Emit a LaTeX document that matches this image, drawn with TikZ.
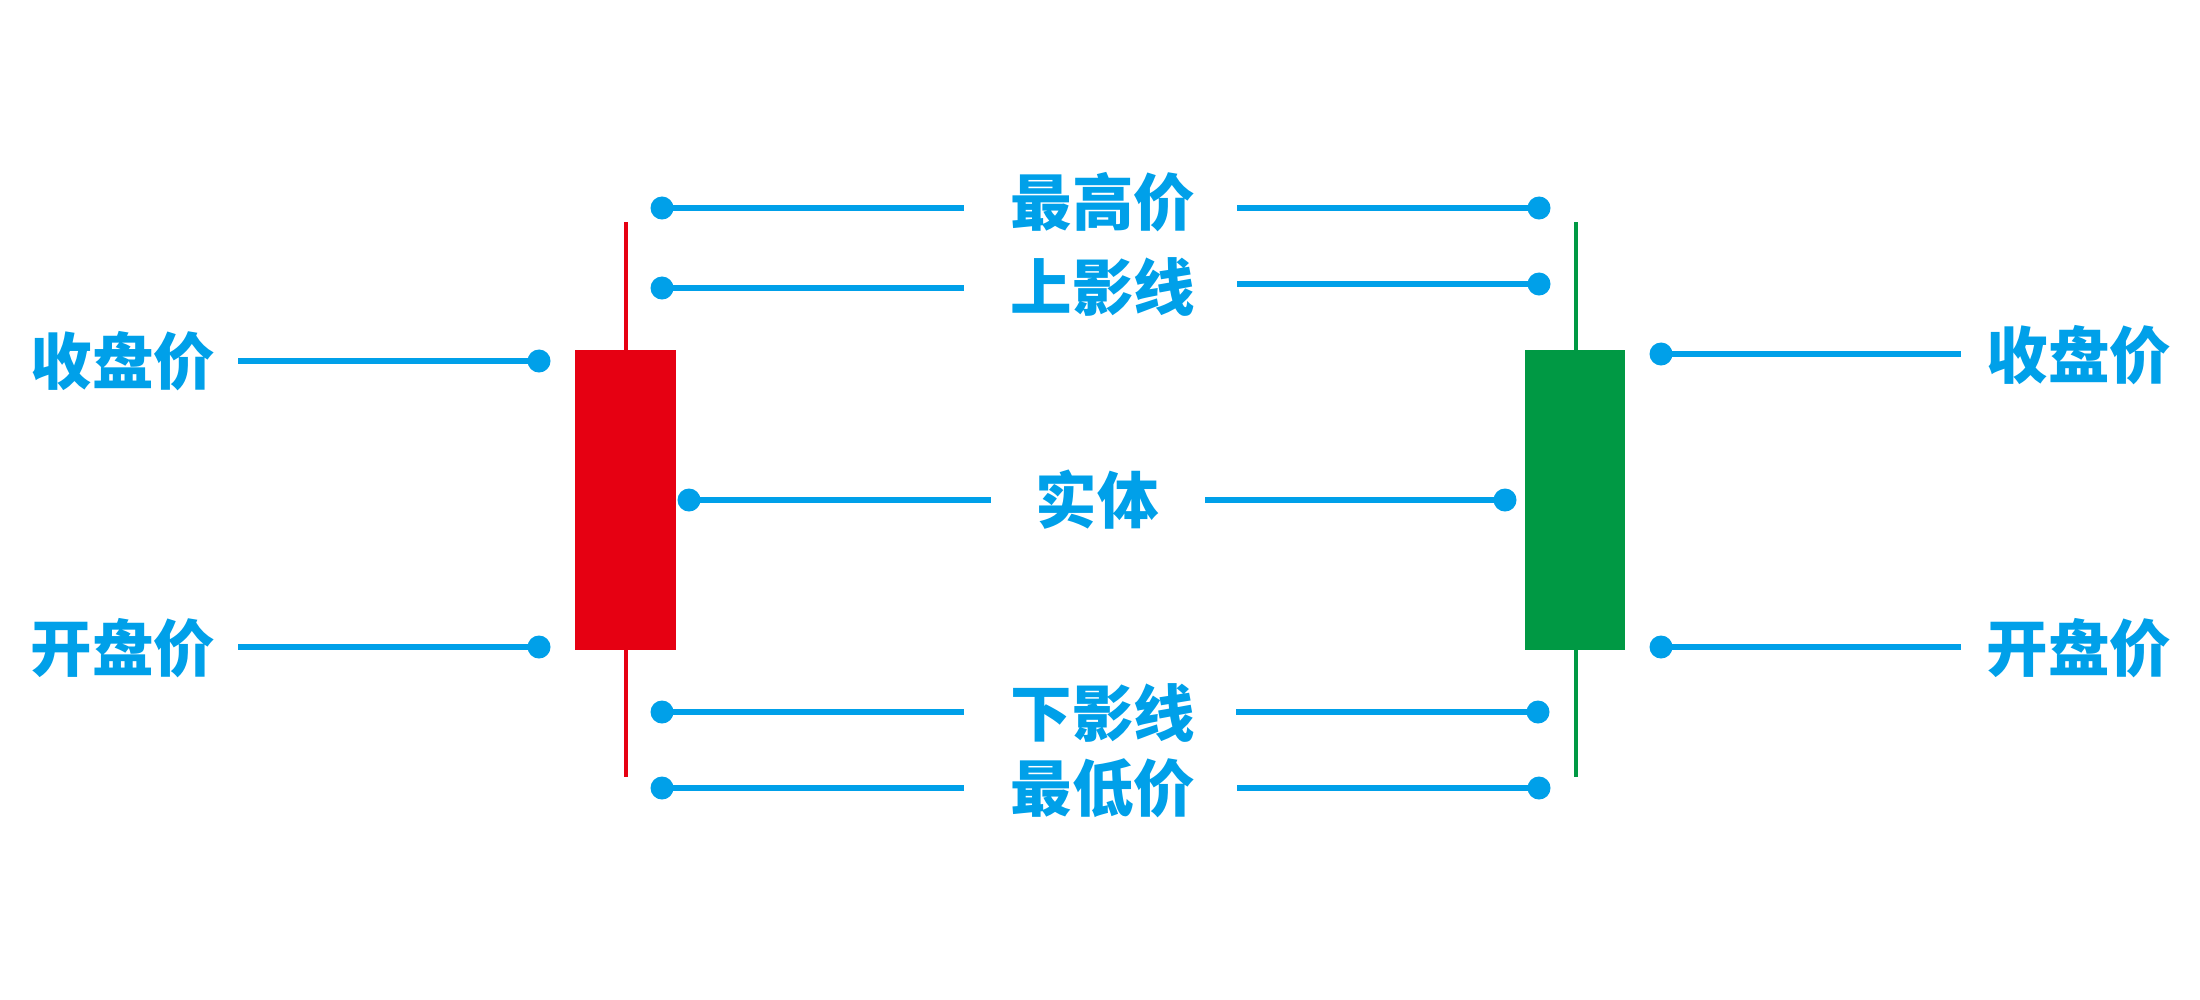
\documentclass[tikz,border=0pt]{standalone}
\usepackage{fontspec}
\newfontfamily\cjk{Noto Sans CJK SC}
\definecolor{kblue}{HTML}{00A0E9}
\definecolor{kred}{HTML}{E60012}
\definecolor{kgreen}{HTML}{009944}
\tikzset{
  lbl/.style={text=kblue, font=\cjk\bfseries\fontsize{17.5pt}{20pt}\selectfont, inner sep=0pt},
  dot/.style={circle, fill=kblue, minimum size=0.23cm, inner sep=0pt},
  conn/.style={draw=kblue, line width=1.6pt},
  wick/.style={line width=1.4pt},
}
\begin{document}
\begin{tikzpicture}[x=0.01cm, y=-0.01cm]
\useasboundingbox (0,0) rectangle (2200,1000);
% candles
\draw[wick, kred] (626,222) -- (626,777);
\fill[kred] (575,350) rectangle (676,650);
\draw[wick, kgreen] (1576,222) -- (1576,777);
\fill[kgreen] (1525,350) rectangle (1625,650);
% labels
\node[lbl] (tHigh) at (1103,202) {最高价};
\node[lbl] (tUp) at (1103,287) {上影线};
\node[lbl] (tBody) at (1097,500) {实体};
\node[lbl] (tDown) at (1103,713) {下影线};
\node[lbl] (tLow) at (1103,788) {最低价};
\node[lbl] (tCloseL) at (123,361) {收盘价};
\node[lbl] (tOpenL) at (123,648) {开盘价};
\node[lbl] (tCloseR) at (2079,355) {收盘价};
\node[lbl] (tOpenR) at (2079,648) {开盘价};
% dots
\node[dot] (dHighL) at (662,208) {};
\node[dot] (dUpL) at (662,288) {};
\node[dot] (dBodyL) at (689,500) {};
\node[dot] (dDownL) at (662,712) {};
\node[dot] (dLowL) at (662,788) {};
\node[dot] (dHighR) at (1539,208) {};
\node[dot] (dUpR) at (1539,284) {};
\node[dot] (dBodyR) at (1505,500) {};
\node[dot] (dDownR) at (1538,712) {};
\node[dot] (dLowR) at (1539,788) {};
\node[dot] (dCloseL) at (539,361) {};
\node[dot] (dOpenL) at (539,647) {};
\node[dot] (dCloseR) at (1661,354) {};
\node[dot] (dOpenR) at (1661,647) {};
% free ends
\coordinate (eHighL) at (964,208);
\coordinate (eUpL) at (964,288);
\coordinate (eBodyL) at (991,500);
\coordinate (eDownL) at (964,712);
\coordinate (eLowL) at (964,788);
\coordinate (eHighR) at (1237,208);
\coordinate (eUpR) at (1237,284);
\coordinate (eBodyR) at (1205,500);
\coordinate (eDownR) at (1236,712);
\coordinate (eLowR) at (1237,788);
\coordinate (eCloseL) at (238,361);
\coordinate (eOpenL) at (238,647);
\coordinate (eCloseR) at (1961,354);
\coordinate (eOpenR) at (1961,647);
% connectors
\foreach \n in {HighL,UpL,BodyL,DownL,LowL,HighR,UpR,BodyR,DownR,LowR,CloseL,OpenL,CloseR,OpenR}
  \draw[conn] (d\n.center) -- (e\n);
\end{tikzpicture}
\end{document}
